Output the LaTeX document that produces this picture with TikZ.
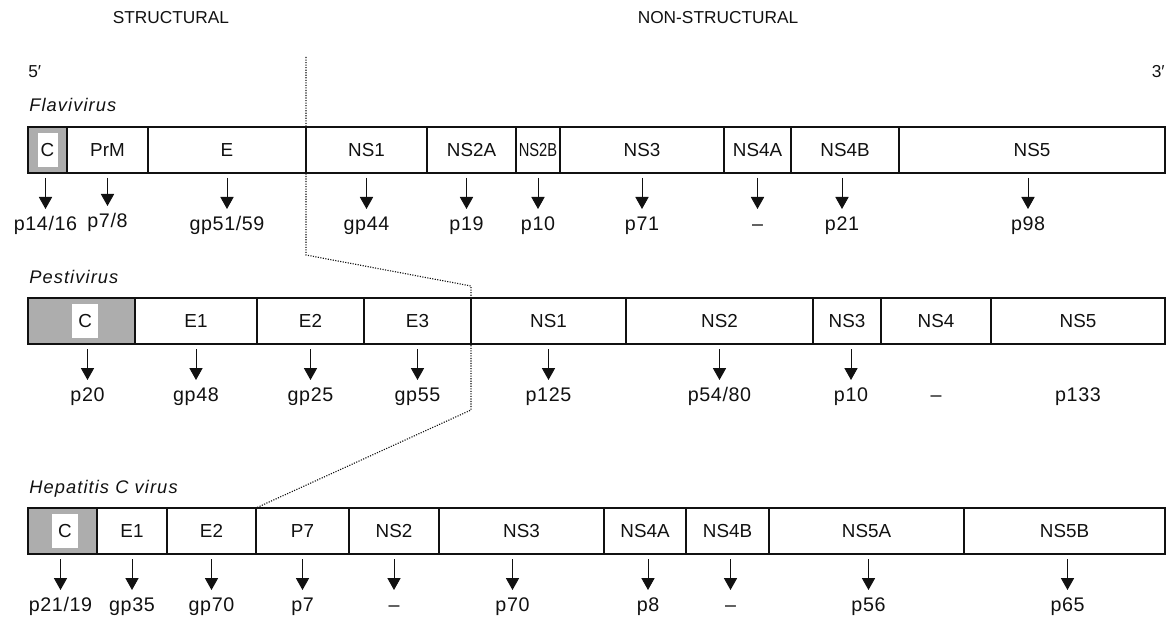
\documentclass[tikz,border=0pt]{standalone}
\usepackage{fontspec}
\setmainfont{Liberation Sans}
\newfontfamily\virusfont{Liberation Sans}[LetterSpace=6]
\newfontfamily\protfont{Liberation Sans}[LetterSpace=3]
\usepackage{graphicx}
\usetikzlibrary{arrows.meta,positioning,calc}
\definecolor{ink}{HTML}{111111}
\definecolor{capsid}{HTML}{ADADAD}
\newcommand{\segtext}{\fontsize{13.4}{15}\selectfont}
\tikzset{
  >=Latex,
  every node/.style={text=ink},
  seg/.style={draw=ink,line width=0.9pt,outer sep=0pt,inner sep=0pt,minimum height=11.5mm,font=\segtext},
  cbox/.style={seg,fill=capsid,line width=1.3pt},
  cwin/.style={fill=white,inner sep=0pt,outer sep=0pt,minimum height=8.5mm,font=\segtext},
  prot/.style={inner sep=0pt,outer sep=0pt,text height=3.6mm,text depth=1.1mm,font=\protfont\fontsize{14}{16}\selectfont},
  arrow/.style={-{Triangle[width=3.3mm,length=3mm]},line width=0.7pt,draw=ink,shorten <=1.25mm,shorten >=1.75mm},
  guide/.style={densely dotted,line width=0.8pt,draw=ink},
  frame/.style={draw=ink,line width=1.5pt},
  virus/.style={font=\virusfont\itshape\fontsize{13}{15}\selectfont,inner sep=0pt},
  region/.style={font=\fontsize{12.3}{14}\selectfont,inner sep=0pt},
}

\begin{document}
\begin{tikzpicture}[node distance=0mm]
\useasboundingbox (0,0) rectangle (293.5mm,-156.5mm);

% Headings
\node[region,anchor=base] (struct) at (42.75mm,-6mm) {STRUCTURAL};
\node[region,anchor=base] (nonstruct) at (179.5mm,-6mm) {NON-STRUCTURAL};
\node[region,anchor=base west] (five) at (7mm,-19.5mm) {5′};
\node[region,anchor=base east] (three) at (291.25mm,-19.5mm) {3′};

% Flavivirus
\node[cbox,minimum width=9.75mm,anchor=north west] (fc) at (7mm,-31.75mm) {};
\node[seg,minimum width=20.25mm,right=of fc] (fprm) {PrM};
\node[seg,minimum width=39.5mm,right=of fprm] (fe) {E};
\node[seg,minimum width=30.25mm,right=of fe] (fns1) {NS1};
\node[seg,minimum width=22.25mm,right=of fns1] (fns2a) {NS2A};
\node[seg,minimum width=11mm,right=of fns2a] (fns2b) {\scalebox{0.78}[1]{NS2B}};
\node[seg,minimum width=41mm,right=of fns2b] (fns3) {NS3};
\node[seg,minimum width=16.75mm,right=of fns3] (fns4a) {NS4A};
\node[seg,minimum width=27mm,right=of fns4a] (fns4b) {NS4B};
\node[seg,minimum width=66.5mm,right=of fns4b] (fns5) {NS5};
\node[cwin,minimum width=5mm] (fcw) at (fc) {C};
\draw[frame] (fc.north west) rectangle (fns5.south east);
\node[virus,above=3.75mm of fc.north west,anchor=base west,xshift=0.25mm] (flavi) {Flavivirus};

\node[prot,below=10.75mm of fc,xshift=-0.5mm] (fc-p) {p14/16};
\node[prot,below=10.75mm of fprm,yshift=0.75mm] (fprm-p) {p7/8};
\node[prot,below=10.75mm of fe] (fe-p) {gp51/59};
\node[prot,below=10.75mm of fns1] (fns1-p) {gp44};
\node[prot,below=10.75mm of fns2a,xshift=-1.25mm] (fns2a-p) {p19};
\node[prot,below=10.75mm of fns2b] (fns2b-p) {p10};
\node[prot,below=10.75mm of fns3] (fns3-p) {p71};
\node[prot,below=10.75mm of fns4a] (fns4a-p) {–};
\node[prot,below=10.75mm of fns4b,xshift=-0.75mm] (fns4b-p) {p21};
\node[prot,below=10.75mm of fns5,xshift=-1mm] (fns5-p) {p98};

% Pestivirus
\node[cbox,minimum width=26.75mm,anchor=north west] (pc) at (7mm,-74.5mm) {};
\node[seg,minimum width=30.5mm,right=of pc] (pe1) {E1};
\node[seg,minimum width=26.75mm,right=of pe1] (pe2) {E2};
\node[seg,minimum width=26.75mm,right=of pe2] (pe3) {E3};
\node[seg,minimum width=38.75mm,right=of pe3] (pns1) {NS1};
\node[seg,minimum width=46.75mm,right=of pns1] (pns2) {NS2};
\node[seg,minimum width=17mm,right=of pns2] (pns3) {NS3};
\node[seg,minimum width=27.5mm,right=of pns3] (pns4) {NS4};
\node[seg,minimum width=43.5mm,right=of pns4] (pns5) {NS5};
\node[cwin,minimum width=6.5mm,xshift=0.9mm] (pcw) at (pc) {C};
\draw[frame] (pc.north west) rectangle (pns5.south east);
\node[virus,above=3.75mm of pc.north west,anchor=base west,xshift=0.25mm] (pesti) {Pestivirus};

\node[prot,below=10.75mm of pc,xshift=1.5mm] (pc-p) {p20};
\node[prot,below=10.75mm of pe1] (pe1-p) {gp48};
\node[prot,below=10.75mm of pe2] (pe2-p) {gp25};
\node[prot,below=10.75mm of pe3] (pe3-p) {gp55};
\node[prot,below=10.75mm of pns1] (pns1-p) {p125};
\node[prot,below=10.75mm of pns2] (pns2-p) {p54/80};
\node[prot,below=10.75mm of pns3,xshift=1mm] (pns3-p) {p10};
\node[prot,below=10.75mm of pns4] (pns4-p) {–};
\node[prot,below=10.75mm of pns5] (pns5-p) {p133};

% Hepatitis C virus
\node[cbox,minimum width=17.25mm,anchor=north west] (hc) at (7mm,-127mm) {};
\node[seg,minimum width=17.5mm,right=of hc] (he1) {E1};
\node[seg,minimum width=22.25mm,right=of he1] (he2) {E2};
\node[seg,minimum width=23.25mm,right=of he2] (hp7) {P7};
\node[seg,minimum width=22.5mm,right=of hp7] (hns2) {NS2};
\node[seg,minimum width=41.25mm,right=of hns2] (hns3) {NS3};
\node[seg,minimum width=20.5mm,right=of hns3] (hns4a) {NS4A};
\node[seg,minimum width=20.75mm,right=of hns4a] (hns4b) {NS4B};
\node[seg,minimum width=48.75mm,right=of hns4b] (hns5a) {NS5A};
\node[seg,minimum width=50.25mm,right=of hns5a] (hns5b) {NS5B};
\node[cwin,minimum width=6.5mm,xshift=0.6mm] (hcw) at (hc) {C};
\draw[frame] (hc.north west) rectangle (hns5b.south east);
\node[virus,above=3.75mm of hc.north west,anchor=base west,xshift=0.25mm] (hcv) {Hepatitis C virus};

\node[prot,below=10.75mm of hc,xshift=-0.5mm] (hc-p) {p21/19};
\node[prot,below=10.75mm of he1] (he1-p) {gp35};
\node[prot,below=10.75mm of he2] (he2-p) {gp70};
\node[prot,below=10.75mm of hp7] (hp7-p) {p7};
\node[prot,below=10.75mm of hns2] (hns2-p) {–};
\node[prot,below=10.75mm of hns3,xshift=-2.25mm] (hns3-p) {p70};
\node[prot,below=10.75mm of hns4a,xshift=0.75mm] (hns4a-p) {p8};
\node[prot,below=10.75mm of hns4b,xshift=0.75mm] (hns4b-p) {–};
\node[prot,below=10.75mm of hns5a,xshift=0.5mm] (hns5a-p) {p56};
\node[prot,below=10.75mm of hns5b,xshift=0.75mm] (hns5b-p) {p65};

% Arrows
\foreach \s in {fc,fprm,fe,fns1,fns2a,fns2b,fns3,fns4a,fns4b,fns5,pc,pe1,pe2,pe3,pns1,pns2,pns3,hc,he1,he2,hp7,hns2,hns3,hns4a,hns4b,hns5a,hns5b}
  {\draw[arrow] (\s.south -| \s-p.north) -- (\s-p.north);}

% Structural / non-structural boundary
\coordinate (gtop) at ($(fe.north east)+(0,17.5mm)$);
\draw[guide] (gtop) -- (fe.south east) -- ++(0,-20.5mm) -- ($(pe3.north east)+(0,3mm)$) -- (pe3.south east) -- ++(0,-16.5mm) -- (he2.north east);

\end{tikzpicture}
\end{document}
